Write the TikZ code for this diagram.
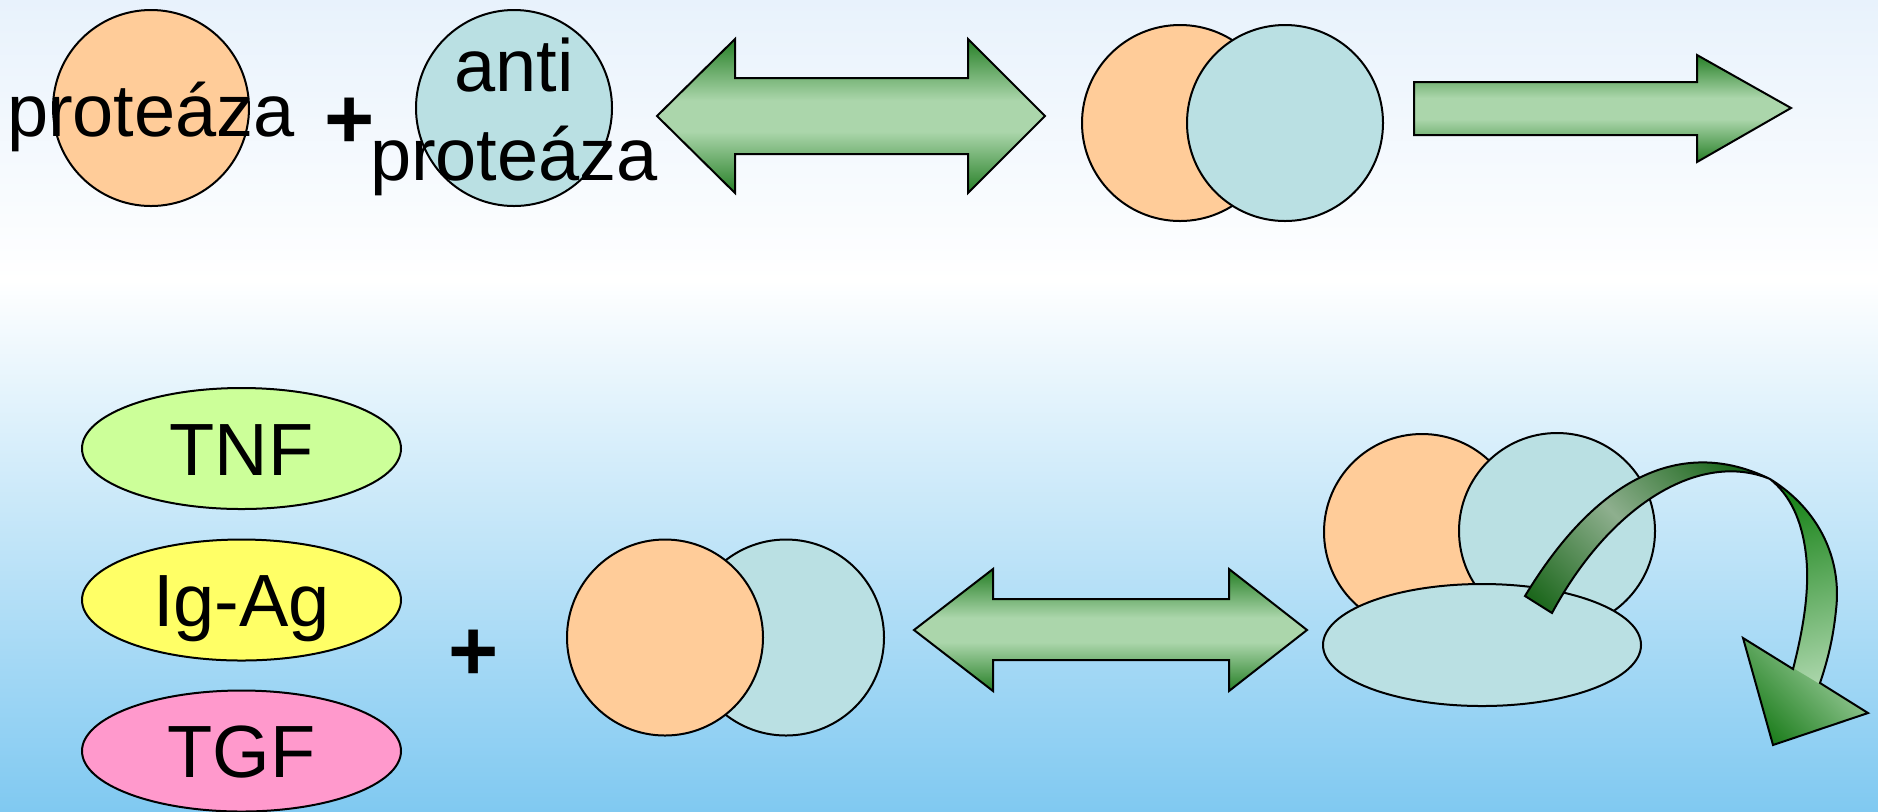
\documentclass[tikz,border=0pt]{standalone}
\usepackage{fontspec}
\setmainfont{Liberation Sans}
\usetikzlibrary{shapes.geometric}
\definecolor{bgtop}{HTML}{E8F2FC}
\definecolor{bgbot}{HTML}{80C9F1}
\definecolor{corange}{HTML}{FFCC99}
\definecolor{cblue}{HTML}{BAE0E3}
\definecolor{ctnf}{HTML}{CCFF99}
\definecolor{cig}{HTML}{FFFF66}
\definecolor{ctgf}{HTML}{FF99CC}
\definecolor{adark}{HTML}{267F26}
\definecolor{alight}{HTML}{ABD6AB}
\definecolor{cdarkA}{HTML}{1A661A}
\definecolor{cgrey}{HTML}{8EAF8E}
\definecolor{cbright}{HTML}{138013}
\definecolor{chead}{HTML}{1E7E1E}
\pgfdeclareverticalshading{arrowshade}{100bp}{color(0bp)=(adark); color(25bp)=(adark); color(45bp)=(alight); color(55bp)=(alight); color(75bp)=(adark); color(100bp)=(adark)}
\newcommand{\bigfont}{\fontsize{37pt}{44.5pt}\selectfont}
\newcommand{\plusfont}{\fontsize{43pt}{52pt}\selectfont\bfseries}
\begin{document}
\begin{tikzpicture}[x=0.5pt,y=-0.5pt,
  circ/.style={circle, draw, line width=1pt, minimum size=98pt, inner sep=0pt},
  ell/.style={ellipse, draw, line width=1pt, minimum width=159.5pt, minimum height=60.5pt, inner sep=0pt, text height=26.5pt, text depth=0pt, font=\bigfont},
  lbl/.style={font=\bigfont, inner sep=0pt},
  plussign/.style={font=\plusfont, inner sep=0pt},
  blockarrow/.style={draw, line width=1pt, line join=miter, shading=arrowshade}]
\useasboundingbox (0,0) rectangle (1878,811);
% background
\shade[top color=bgtop, bottom color=white] (0,0) rectangle (1878,281);
\shade[top color=white, bottom color=bgbot] (0,280) rectangle (1878,811);

% ---------- top row ----------
\node[circ, fill=corange] (prot) at (151,108) {};
\node[lbl, anchor=base] (protlbl) at (151,136) {proteáza};
\node[plussign] (plusA) at (350,123) {+};
\node[circ, fill=cblue] (anti) at (514,108) {};
\node[lbl, anchor=base] (antilblA) at (514,91) {anti};
\node[lbl, anchor=base] (antilblB) at (514,180) {proteáza};

\shade[blockarrow] (657,116) -- (735,39) -- (735,78) -- (968,78) -- (968,39) -- (1045,116)
  -- (968,193) -- (968,154) -- (735,154) -- (735,193) -- cycle;

\node[circ, fill=corange] (cxA) at (1180,123) {};
\node[circ, fill=cblue] (cxB) at (1285,123) {};

\shade[blockarrow] (1414,82) -- (1697,82) -- (1697,55) -- (1791,108) -- (1697,162)
  -- (1697,135) -- (1414,135) -- cycle;

% ---------- bottom row ----------
\node[ell, fill=ctnf] (tnf) at (241.5,448.5) {TNF};
\node[ell, fill=cig] (igag) at (241.5,600) {Ig-Ag};
\node[ell, fill=ctgf] (tgf) at (241.5,751) {TGF};
\node[plussign] (plusB) at (474,655) {+};

\node[circ, fill=cblue] (cpB) at (786,637.5) {};
\node[circ, fill=corange] (cpA) at (665,637.5) {};

\shade[blockarrow] (914,630) -- (993,569) -- (993,599) -- (1229,599) -- (1229,569) -- (1307,630)
  -- (1229,691) -- (1229,660) -- (993,660) -- (993,691) -- cycle;

\node[circ, fill=corange] (clA) at (1422,532) {};
\node[circ, fill=cblue] (clB) at (1557,531) {};
\node[ellipse, draw, line width=1pt, fill=cblue, minimum width=159pt, minimum height=61pt, inner sep=0pt] (clE) at (1482,645) {};

% curved (twisted) arrow
\coordinate (twist) at (1770,479);
\path[save path=\carrowpath] (1525,596) .. controls (1595,480) and (1680,435) .. (twist)
  .. controls (1820,510) and (1842,560) .. (1836,610)
  .. controls (1833,640) and (1827,662) .. (1820,683)
  -- (1868,713) -- (1773,745) -- (1743,638) -- (1793,669)
  .. controls (1803,630) and (1810,590) .. (1806,555)
  .. controls (1802,520) and (1790,495) .. (twist)
  .. controls (1700,450) and (1610,505) .. (1552,613) -- cycle;
\begin{scope}
  \clip[use path=\carrowpath];
  \shade[top color=cdarkA, bottom color=cdarkA, middle color=cgrey, shading angle=-45] (1500,430) rectangle (1770,640);
  \shade[top color=cbright, bottom color=alight, shading angle=15] (1770,470) rectangle (1880,690);
  \shade[top color=alight, bottom color=chead, shading angle=-45] (1743,638) -- (1868,713) -- (1773,745) -- cycle;
\end{scope}
\draw[line width=1pt, line join=miter, use path=\carrowpath];
\end{tikzpicture}
\end{document}
